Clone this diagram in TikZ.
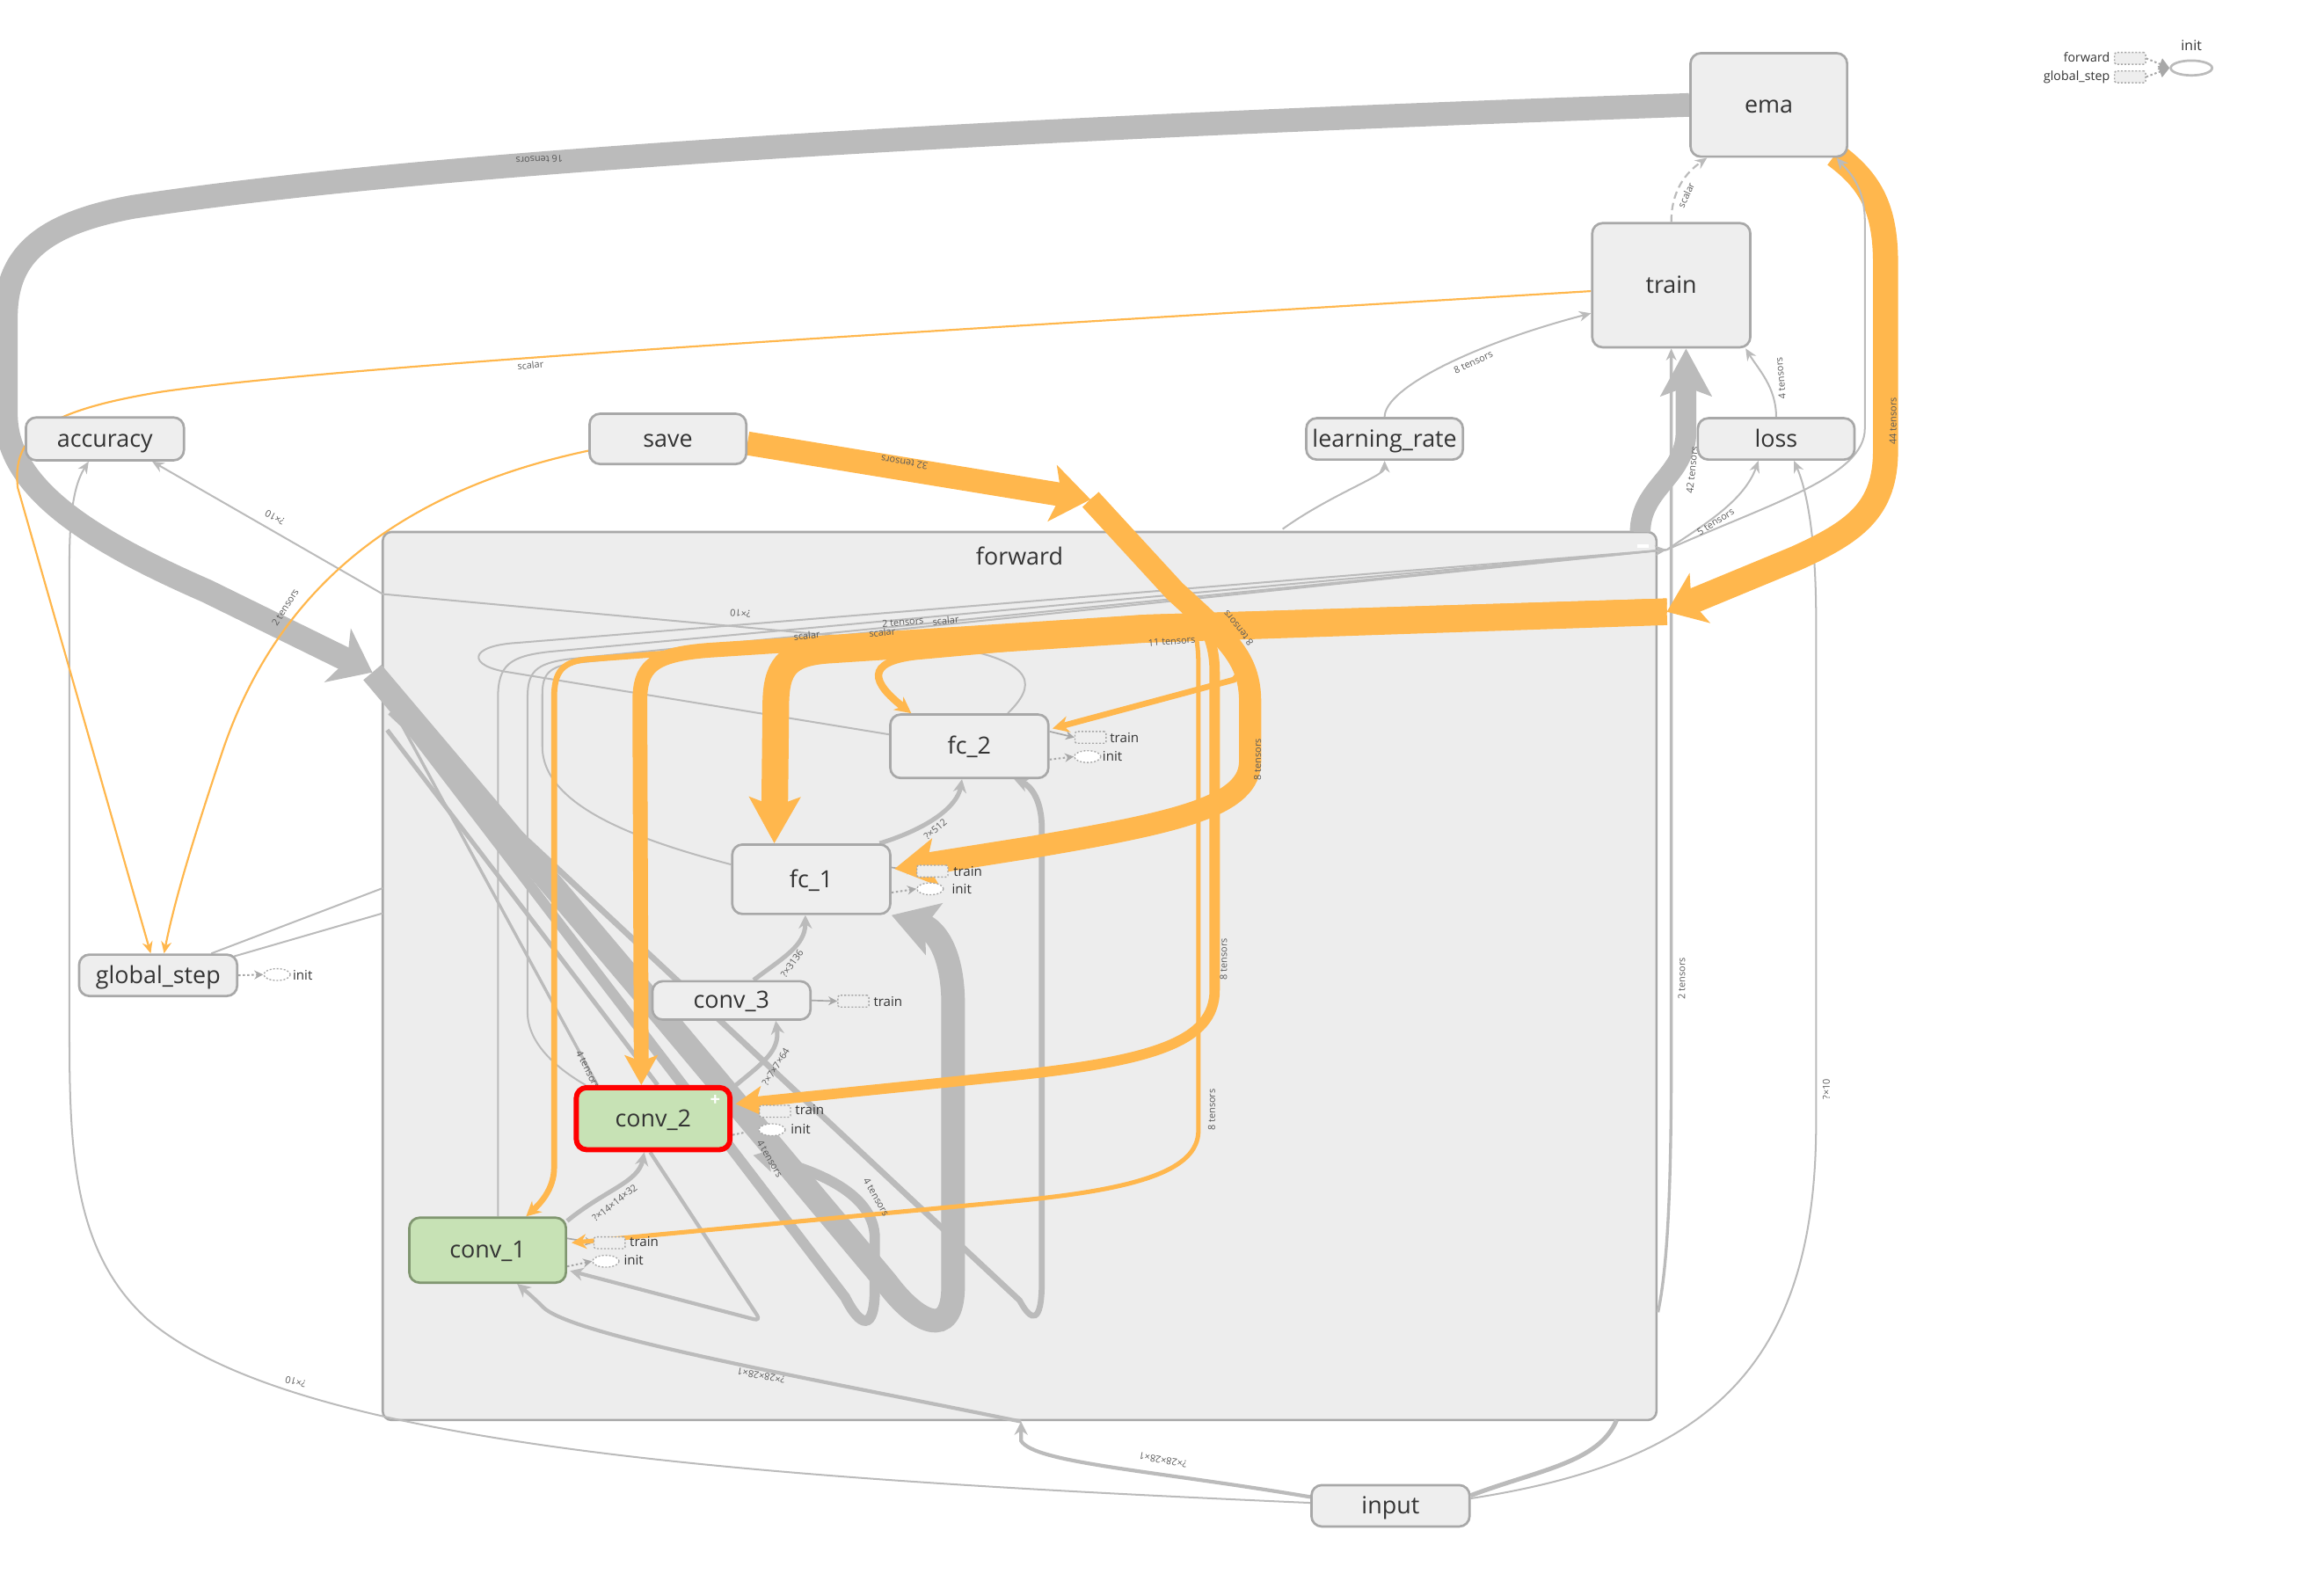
\documentclass[tikz,border=0pt]{standalone}
\usepackage{fontspec}
\setmainfont{Open Sans}
\usetikzlibrary{arrows.meta,calc,shapes.geometric}
\definecolor{eg}{RGB}{187,187,187}
\definecolor{og}{RGB}{255,183,77}
\definecolor{nf}{RGB}{238,238,238}
\definecolor{nb}{RGB}{168,168,168}
\definecolor{ff}{RGB}{237,237,237}
\definecolor{gf}{RGB}{199,226,181}
\definecolor{gb}{RGB}{128,150,112}
\definecolor{tx}{RGB}{51,51,51}
\definecolor{lt}{RGB}{90,90,90}
\pgfdeclarelayer{bg}\pgfdeclarelayer{edg}\pgfdeclarelayer{lbl}
\pgfsetlayers{bg,edg,lbl,main}
\tikzset{
 box/.style={draw=nb, fill=nf, line width=1.6pt, rounded corners=7pt, text=tx, font=\fontsize{16}{18}\selectfont, inner sep=0pt, text height=11pt, text depth=0pt},
 ge/.style={draw=eg, line width=#1}, ge/.default=1.2pt,
 oe/.style={draw=og, line width=#1}, oe/.default=1.3pt,
 lab/.style={font=\fontsize{6.5}{7}\selectfont, text=lt, inner sep=0.5pt},
 sa/.style={-{Stealth[length=8pt,width=7pt]}},
 trn/.style={draw=nb, dash pattern=on 1.2pt off 1.2pt, line width=0.8pt, fill=nf, minimum width=21pt, minimum height=8pt, inner sep=0pt, rounded corners=1pt},
 ini/.style={ellipse, draw=nb, dash pattern=on 1.2pt off 1.2pt, line width=0.8pt, fill=white, minimum width=18pt, minimum height=8pt, inner sep=0pt},
 ann/.style={font=\fontsize{9}{10}\selectfont, text=tx, anchor=west, inner sep=0pt},
 tarr/.style={draw=nb, line width=1pt, -{Stealth[length=6pt,width=6pt]}},
 iarr/.style={draw=nb, line width=1.2pt, dash pattern=on 1.5pt off 1.5pt, -{Stealth[length=6pt,width=6pt]}},
}
\begin{document}
\begin{tikzpicture}[x=1pt,y=-1pt]
\useasboundingbox (0,0) rectangle (1568,1080);
% ---------- nodes ----------
\node[box, minimum width=106pt, minimum height=70pt] (ema) at (1197,71) {ema};
\node[box, minimum width=107pt, minimum height=84pt] (train) at (1131,193) {train};
\node[box, minimum width=107pt, minimum height=29pt] (acc) at (71,297) {accuracy};
\node[box, minimum width=106pt, minimum height=34pt] (save) at (452,297) {save};
\node[box, minimum width=106pt, minimum height=28pt] (lr) at (937,297) {learning\_rate};
\node[box, minimum width=106pt, minimum height=28pt] (loss) at (1202,297) {loss};
\node[box, minimum width=107pt, minimum height=28pt] (gstep) at (107,660) {global\_step};
\node[box, minimum width=107pt, minimum height=28pt] (input) at (941,1019) {input};
\node[box, minimum width=107pt, minimum height=43pt] (fc2) at (656,505) {fc\_2};
\node[box, minimum width=107pt, minimum height=47pt] (fc1) at (549,595) {fc\_1};
\node[box, minimum width=107pt, minimum height=26pt] (conv3) at (495,677) {conv\_3};
\node[box, fill=gf, draw=red, line width=3.5pt, minimum width=104pt, minimum height=42pt] (conv2) at (442,757) {conv\_2};
\node[box, fill=gf, draw=gb, minimum width=106pt, minimum height=44pt] (conv1) at (330,846) {conv\_1};
\node[text=white, font=\bfseries\fontsize{12}{12}\selectfont, inner sep=0pt] (plus) at (484,745) {+};
\draw[white, line width=2pt] (1108,369.5) coordinate (mA) -- (1116,369.5) coordinate (mB);
\begin{pgfonlayer}{bg}
\node[draw=nb, fill=ff, line width=1.5pt, rounded corners=6pt, minimum width=862pt, minimum height=601pt, inner sep=0pt] (fwd) at (690,660.5) {};
\end{pgfonlayer}
\node[font=\fontsize{16}{18}\selectfont, text=tx, anchor=base, inner sep=0pt] (fwdlab) at (690,382.5) {forward};
% annotations
\node[trn] (fc2t) at (738,499) {}; \node[ann] (fc2tl) at (751,499) {train};
\node[ini] (fc2i) at (736,512) {}; \node[ann] (fc2il) at (746,512) {init};
\node[trn] (fc1t) at (631,589.5) {}; \node[ann] (fc1tl) at (645,589.5) {train};
\node[ini] (fc1i) at (629.5,601.5) {}; \node[ann] (fc1il) at (644,601.5) {init};
\node[trn] (c3t) at (577.5,677.5) {}; \node[ann] (c3tl) at (591,677.5) {train};
\node[trn] (c2t) at (524.5,752) {}; \node[ann] (c2tl) at (538,751) {train};
\node[ini] (c2i) at (522.5,764.5) {}; \node[ann] (c2il) at (535,764) {init};
\node[trn] (c1t) at (412.5,841) {}; \node[ann] (c1tl) at (426,840.5) {train};
\node[ini] (c1i) at (410,853.5) {}; \node[ann] (c1il) at (422,853) {init};
\node[ini] (gsi) at (187.5,659.5) {}; \node[ann] (gsil) at (198,660) {init};
% legend
\node[font=\fontsize{8.5}{9}\selectfont, text=tx, anchor=east, inner sep=0pt] (lgf) at (1428,39) {forward};
\node[font=\fontsize{8.5}{9}\selectfont, text=tx, anchor=east, inner sep=0pt] (lgg) at (1428,52) {global\_step};
\node[trn] (lgfr) at (1441.5,39.5) {};
\node[trn] (lggr) at (1441.5,52) {};
\node[ellipse, draw=eg, line width=1.6pt, minimum width=28pt, minimum height=10pt, inner sep=0pt] (lgi) at (1483,46) {};
\node[font=\fontsize{9.5}{10}\selectfont, text=tx, inner sep=0pt] (lgil) at (1483,31) {init};
\draw[draw=nb, line width=1.2pt, dash pattern=on 1.5pt off 1.5pt, -{Triangle[length=7pt,width=8pt]}] (lgfr.east) -- (lgi.west);
\draw[draw=nb, line width=1.2pt, dash pattern=on 1.5pt off 1.5pt, -{Triangle[length=7pt,width=8pt]}] (lggr.east) -- (lgi.west);
% ---------- edges ----------
\begin{pgfonlayer}{edg}
\coordinate (fin) at (252,455);
\coordinate (fin2) at (260,470);
\coordinate (fin3) at (264,482);
\coordinate (fin4) at (262,494);
\coordinate (fin5) at (264,476);
\coordinate (fout) at (1128,372);
\coordinate (oin) at (1128,414);
\coordinate (sin) at (738,338);
\coordinate (sbr) at (795,400);
\coordinate (ibot) at (691,962);
\coordinate (lbr) at (259,402);
\coordinate (gb1) at (259,601);
\coordinate (gb2) at (259,618);
\coordinate (rbr) at (1122,888);
\coordinate (tbr) at (1110,360);
\coordinate (lrbr) at (868,358);
\coordinate (ibr) at (1094,961);
% annotation arrows
\draw[tarr] ($(fc2.east)+(0,-10)$) -- (fc2t.west);
\draw[iarr] ($(fc2.east)+(0,9)$) -- (fc2i.west);
\draw[tarr] ($(fc1.east)+(0,-8)$) -- (fc1t.west);
\draw[iarr] ($(fc1.east)+(0,9)$) -- (fc1i.west);
\draw[tarr] (conv3.east) -- (c3t.west);
\draw[tarr] ($(conv2.east)+(0,-8)$) -- (c2t.west);
\draw[iarr] ($(conv2.east)+(0,11)$) -- (c2i.west);
\draw[tarr] ($(conv1.east)+(0,-8)$) -- (c1t.west);
\draw[iarr] ($(conv1.east)+(0,11)$) -- (c1i.west);
\draw[iarr] (gstep.east) -- (gsi.west);
% big gray 16 tensors
\draw[ge=16pt, -{Stealth[length=26pt,width=40pt,inset=7pt]}] (ema.west) .. controls (700,86) and (300,108) .. (90,140) .. controls (25,152) and (4,175) .. (4,215) -- (4,280) .. controls (4,330) and (60,365) .. (140,400) -- (fin);
\draw[ge=16pt, -{Stealth[length=30pt,width=36pt,inset=6pt]}] (fin) -- (449,688) -- (600,868) .. controls (620,895) and (645,908) .. (645,870) -- (645,680) .. controls (645,640) and (630,628) .. ($(fc1.south east)+(0,0)$);
\draw[ge=7pt, -{Stealth[length=14pt,width=16pt,inset=3pt]}] (fin2) -- (572,878) .. controls (582,898) and (592,902) .. (592,872) -- (592,838) .. controls (592,805) and (545,790) .. ($(conv2.south east)+(14,2)$);
\draw[ge=4pt, -{Stealth[length=10pt,width=10pt]}] (fin3) -- (690,880) .. controls (698,895) and (705,896) .. (705,868) -- (705,560) .. controls (705,542) and (698,532) .. ($(fc2.south east)+(-24,0)$);
\draw[ge=3pt] (fin4) -- ($(conv2.north)+(3,0)$);
\draw[ge=2pt] (fin5) -- ($(conv2.north west)+(16,0)$);
\draw[ge=2.5pt, rounded corners=5pt, -{Stealth[length=9pt,width=9pt]}] ($(conv2.south)+(-2,0)$) -- (515,894) -- ($(conv1.east)+(2,14)$);
% conv chain
\draw[ge=3pt, -{Stealth[length=9pt,width=9pt]}] ($(conv1.north east)+(0,3)$) .. controls (410,805) and (432,800) .. ($(conv2.south)+(-6,0)$);
\draw[ge=3pt, -{Stealth[length=9pt,width=9pt]}] ($(conv2.north east)+(0,2)$) .. controls (515,720) and (528,712) .. ($(conv3.south)+(30,0)$);
\draw[ge=3pt, -{Stealth[length=9pt,width=9pt]}] ($(conv3.north)+(15,0)$) .. controls (530,648) and (545,640) .. ($(fc1.south)+(-4,0)$);
\draw[ge=3pt, -{Stealth[length=9pt,width=9pt]}] ($(fc1.north east)+(-8,0)$) .. controls (630,560) and (648,545) .. ($(fc2.south)+(-5,0)$);
% thin lines to right bridge
\draw[ge, sa] ($(conv1.north)+(7,0)$) -- (337,472) .. controls (337,450) and (345,444) .. (372,441) -- (fout);
\draw[ge] ($(conv2.north west)+(8,0)$) .. controls (375,722) and (357,705) .. (357,685) -- (357,472) .. controls (357,455) and (362,449) .. (385,446) -- (fout);
\draw[ge] ($(fc1.west)+(0,-10)$) .. controls (430,568) and (367,545) .. (367,505) -- (367,470) .. controls (367,455) and (372,450) .. (395,448) -- (fout);
\draw[ge] ($(fc2.west)+(0,-8)$) -- (345,455) .. controls (316,451) and (316,437) .. (350,435) -- (fout);
% ?x10 accuracy
\draw[ge] ($(fc2.north)+(26,0)$) .. controls (700,465) and (705,448) .. (640,437) -- (lbr);
\draw[ge, sa] (lbr) -- ($(acc.south)+(32,0)$);
% global step lines
\draw[ge] ($(gstep.north)+(36,0)$) -- (gb1);
\draw[ge] ($(gstep.north east)+(-3,2)$) -- (gb2);
% input edges
\draw[ge, sa] ($(input.west)+(0,-2)$) .. controls (500,1000) and (200,978) .. (100,893) .. controls (50,848) and (47,780) .. (47,700) -- (47,380) .. controls (47,340) and (52,325) .. ($(acc.south)+(-11,0)$);
\draw[ge=2.5pt, -{Stealth[length=9pt,width=9pt]}] ($(input.west)+(0,-6)$) .. controls (780,995) and (700,990) .. (691,975) -- (ibot);
\draw[ge=2.5pt, -{Stealth[length=9pt,width=9pt]}] (ibot) .. controls (560,935) and (390,905) .. (368,885) .. controls (360,877) and (355,873) .. ($(conv1.south)+(20,0)$);
\draw[ge=3pt] ($(input.east)+(0,-7)$) .. controls (1040,995) and (1082,990) .. (ibr);
\draw[ge, sa] ($(input.east)+(0,-5)$) .. controls (1150,990) and (1229,930) .. (1229,760) -- (1229,420) .. controls (1229,360) and (1222,330) .. ($(loss.south)+(12,0)$);
% right side
\draw[ge=2pt, sa] (rbr) .. controls (1128,860) and (1131,810) .. (1131,720) -- (train.south);
\draw[ge=14pt, -{Stealth[length=32pt,width=34pt,inset=6pt]}] (tbr) .. controls (1110,330) and (1141,322) .. (1141,292) -- ($(train.south)+(10,0)$);
\draw[ge, sa] (fout) .. controls (1150,357) and (1180,340) .. ($(loss.south)+(-12,0)$);
\draw[ge, sa] (lrbr) .. controls (900,335) and (937,322) .. (lr.south);
\draw[ge, sa] (lr.north) .. controls (937,262) and (1000,232) .. ($(train.west)+(0,19)$);
\draw[ge, sa] (loss.north) .. controls (1202,262) and (1190,250) .. ($(train.south east)+(-4,0)$);
\draw[ge=1.3pt, dash pattern=on 5pt off 3pt, sa] (train.north) .. controls (1131,125) and (1145,114) .. ($(ema.south west)+(12,0)$);
% orange outer
\draw[oe, sa] ($(train.west)+(0,4)$) .. controls (700,220) and (250,245) .. (110,265) .. controls (30,278) and (8,295) .. (12,330) -- ($(gstep.north)+(-5,0)$);
\draw[oe, sa] ($(save.west)+(0,8)$) .. controls (280,330) and (190,390) .. (150,510) .. controls (130,570) and (118,610) .. ($(gstep.north)+(4,0)$);
\draw[oe=17pt, -{Stealth[length=24pt,width=36pt,inset=6pt]}] ($(ema.south east)+(-9,-2)$) .. controls (1265,122) and (1276,140) .. (1276,178) -- (1276,305) .. controls (1276,345) and (1255,360) .. (1215,378) -- (oin);
\draw[oe=16pt, -{Stealth[length=26pt,width=38pt,inset=6pt]}] ($(save.east)+(0,3)$) -- (sin);
% orange inner from 44
\draw[oe=4pt, -{Stealth[length=10pt,width=10pt]}] ($(oin)+(0,-7)$) -- (774,418) -- (400,446) .. controls (380,447) and (375,455) .. (375,472) -- (375,790) .. controls (375,805) and (365,815) .. ($(conv1.north)+(26,0)$);
\draw[oe=10pt, -{Stealth[length=20pt,width=22pt,inset=4pt]}] ($(oin)+(0,-4)$) -- (774,421) -- (480,440) .. controls (440,443) and (433,452) .. (433,475) -- ($(conv2.north)+(-8,0)$);
\draw[oe=5pt, -{Stealth[length=11pt,width=11pt]}] ($(oin)+(0,5)$) -- (774,430) -- (620,444) .. controls (585,448) and (590,462) .. ($(fc2.north west)+(15,0)$);
\draw[oe=18pt, -{Stealth[length=31pt,width=34pt,inset=6pt]}] (oin) -- (774,426) -- (560,440) .. controls (532,442) and (525,452) .. (525,478) -- ($(fc1.north)+(-25,0)$);
% orange inner from save (shared start, then split)
\draw[oe=3pt, -{Stealth[length=10pt,width=10pt]}] (sin) -- (sbr) .. controls (806,414) and (811,428) .. (811,450) -- (811,765) .. controls (811,792) and (770,805) .. (684,813) -- ($(conv1.east)+(3,-5)$);
\draw[oe=7pt, -{Stealth[length=18pt,width=20pt,inset=4pt]}] (sin) -- (sbr) .. controls (812,416) and (822,430) .. (822,455) -- (822,670) .. controls (822,705) and (780,718) .. (684,728) -- ($(conv2.east)+(2,-10)$);
\draw[oe=4pt, -{Stealth[length=11pt,width=11pt]}] (sin) -- (sbr) .. controls (830,432) and (846,450) .. (835,460) -- ($(fc2.east)+(2,-12)$);
\draw[oe=15pt, -{Stealth[length=28pt,width=32pt,inset=6pt]}] (sin) -- (sbr) .. controls (830,432) and (846,445) .. (846,475) -- (846,515) .. controls (846,545) and (800,556) .. (700,573) -- ($(fc1.east)+(2,-7)$);
% thin gray over orange
\draw[ge, sa] (fout) .. controls (1200,340) and (1262,322) .. (1262,290) -- (1262,150) .. controls (1262,125) and (1250,115) .. ($(ema.south east)+(-8,0)$);
\end{pgfonlayer}
% ---------- labels ----------
\begin{pgfonlayer}{lbl}
\node[lab, rotate=183] (l1) at (365,108) {16 tensors};
\node[lab, rotate=5] (l2) at (359,247) {scalar};
\node[lab, rotate=171] (l3) at (612,313) {32 tensors};
\node[lab, rotate=58] (l4) at (193,411) {2 tensors};
\node[lab, rotate=151] (l5) at (186,350) {?×10};
\node[lab, rotate=175] (l6) at (501,415) {?×10};
\node[lab, rotate=166] (l7) at (200,935) {?×10};
\node[lab, rotate=169] (l8) at (515,931) {?×28×28×1};
\node[lab, rotate=170] (l9) at (787,988) {?×28×28×1};
\node[lab, rotate=65] (l10) at (1141,132) {scalar};
\node[lab, rotate=25] (l11) at (997,245) {8 tensors};
\node[lab, rotate=95] (l12) at (1205,256) {4 tensors};
\node[lab, rotate=84] (l13) at (1145,318) {42 tensors};
\node[lab, rotate=90] (l14) at (1281,285) {44 tensors};
\node[lab, rotate=32] (l15) at (1161,353) {5 tensors};
\node[lab, rotate=90] (l16) at (1138,662) {2 tensors};
\node[lab, rotate=90] (l17) at (1236,737) {?×10};
\node[lab, rotate=90] (l18) at (828,649) {8 tensors};
\node[lab, rotate=90] (l19) at (820,751) {8 tensors};
\node[lab, rotate=90] (l20) at (851,514) {8 tensors};
\node[lab, rotate=129] (l21) at (838,425) {8 tensors};
\node[lab, rotate=4] (l22) at (793,434) {11 tensors};
\node[lab, rotate=5] (l23) at (546,430) {scalar};
\node[lab, rotate=5] (l24) at (597,428) {scalar};
\node[lab, rotate=5] (l25) at (611,421) {2 tensors};
\node[lab, rotate=5] (l26) at (640,420) {scalar};
\node[lab, rotate=40] (l27) at (633,561) {?×512};
\node[lab, rotate=55] (l28) at (536,652) {?×3136};
\node[lab, rotate=58] (l29) at (525,722) {?×7×7×64};
\node[lab, rotate=38] (l30) at (416,814) {?×14×14×32};
\node[lab, rotate=-60] (l31) at (521,784) {4 tensors};
\node[lab, rotate=-60] (l32) at (593,810) {4 tensors};
\node[lab, rotate=-63] (l33) at (398,724) {4 tensors};
\end{pgfonlayer}
\end{tikzpicture}
\end{document}
